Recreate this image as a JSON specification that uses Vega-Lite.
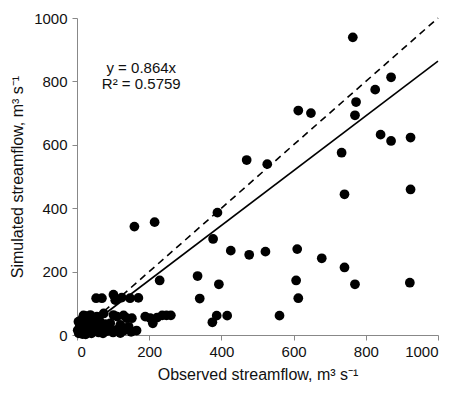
{
  "$schema": "https://vega.github.io/schema/vega-lite/v6.json",
  "width": 361,
  "height": 317,
  "autosize": "none",
  "padding": {"left": 77, "top": 18, "right": 36, "bottom": 60},
  "background": "white",
  "config": {
    "view": {"stroke": null},
    "font": "Liberation Sans",
    "axis": {
      "grid": false,
      "domainColor": "#888888",
      "tickColor": "#888888",
      "tickSize": 5,
      "labelFont": "Liberation Sans",
      "labelFontSize": 15,
      "labelColor": "#111111",
      "titleFont": "Liberation Sans",
      "titleFontSize": 16,
      "titleFontWeight": "normal",
      "titleColor": "#111111"
    }
  },
  "datasets": {
    "pts": [
      {"obs": 764, "sim": 939}, {"obs": 870, "sim": 813}, {"obs": 826, "sim": 774}, {"obs": 773, "sim": 735},
      {"obs": 770, "sim": 693}, {"obs": 613, "sim": 708}, {"obs": 648, "sim": 700}, {"obs": 841, "sim": 632},
      {"obs": 870, "sim": 612}, {"obs": 924, "sim": 623}, {"obs": 733, "sim": 575}, {"obs": 470, "sim": 552},
      {"obs": 527, "sim": 539}, {"obs": 741, "sim": 444}, {"obs": 924, "sim": 459}, {"obs": 389, "sim": 386},
      {"obs": 377, "sim": 303}, {"obs": 426, "sim": 266}, {"obs": 477, "sim": 253}, {"obs": 522, "sim": 263},
      {"obs": 610, "sim": 271}, {"obs": 678, "sim": 242}, {"obs": 741, "sim": 213}, {"obs": 334, "sim": 186},
      {"obs": 393, "sim": 160}, {"obs": 340, "sim": 115}, {"obs": 607, "sim": 172}, {"obs": 770, "sim": 160},
      {"obs": 922, "sim": 165}, {"obs": 613, "sim": 116}, {"obs": 387, "sim": 61}, {"obs": 375, "sim": 40},
      {"obs": 416, "sim": 61}, {"obs": 561, "sim": 61}, {"obs": 159, "sim": 342}, {"obs": 215, "sim": 356},
      {"obs": 229, "sim": 172},
      {"obs": 53, "sim": 116}, {"obs": 69, "sim": 116}, {"obs": 101, "sim": 127}, {"obs": 106, "sim": 110},
      {"obs": 124, "sim": 118}, {"obs": 147, "sim": 116}, {"obs": 170, "sim": 117},
      {"obs": 23, "sim": 60}, {"obs": 37, "sim": 63}, {"obs": 55, "sim": 58}, {"obs": 74, "sim": 68},
      {"obs": 101, "sim": 63}, {"obs": 111, "sim": 58}, {"obs": 129, "sim": 62}, {"obs": 138, "sim": 53},
      {"obs": 152, "sim": 53}, {"obs": 189, "sim": 58}, {"obs": 203, "sim": 53}, {"obs": 210, "sim": 37},
      {"obs": 222, "sim": 55}, {"obs": 236, "sim": 62}, {"obs": 248, "sim": 62}, {"obs": 260, "sim": 62},
      {"obs": 92, "sim": 37}, {"obs": 120, "sim": 32}, {"obs": 143, "sim": 26},
      {"obs": 5, "sim": 5}, {"obs": 10, "sim": 12}, {"obs": 15, "sim": 3}, {"obs": 20, "sim": 20},
      {"obs": 8, "sim": 28}, {"obs": 4, "sim": 42}, {"obs": 14, "sim": 50}, {"obs": 26, "sim": 36},
      {"obs": 30, "sim": 12}, {"obs": 36, "sim": 26}, {"obs": 40, "sim": 5}, {"obs": 46, "sim": 40},
      {"obs": 50, "sim": 16}, {"obs": 56, "sim": 30}, {"obs": 60, "sim": 8}, {"obs": 18, "sim": 62},
      {"obs": 28, "sim": 55}, {"obs": 66, "sim": 20}, {"obs": 72, "sim": 5}, {"obs": 78, "sim": 34},
      {"obs": 82, "sim": 12}, {"obs": 90, "sim": 20}, {"obs": 100, "sim": 8}, {"obs": 110, "sim": 16},
      {"obs": 120, "sim": 6}, {"obs": 130, "sim": 14}, {"obs": 150, "sim": 10}, {"obs": 165, "sim": 14},
      {"obs": 2, "sim": 15}, {"obs": 24, "sim": 2}, {"obs": 45, "sim": 22}, {"obs": 62, "sim": 45}
    ],
    "lines": [
      {"x": 0, "y": 0, "kind": "fit"}, {"x": 1000, "y": 864, "kind": "fit"},
      {"x": 0, "y": 0, "kind": "one"}, {"x": 1000, "y": 1000, "kind": "one"}
    ],
    "notes": [
      {"x": 178, "y": 842, "label": "y = 0.864x"},
      {"x": 178, "y": 793, "label": "R² = 0.5759"}
    ]
  },
  "layer": [
    {
      "data": {"name": "lines"},
      "transform": [{"filter": "datum.kind === 'one'"}],
      "mark": {"type": "line", "color": "black", "strokeWidth": 1.6, "strokeDash": [7, 5]},
      "encoding": {
        "x": {"field": "x", "type": "quantitative", "scale": {"domain": [0, 1000], "nice": false},
              "axis": {"values": [0, 200, 400, 600, 800, 1000], "format": "d", "title": "Observed streamflow, m³ s⁻¹", "titlePadding": 7, "labelPadding": 4}},
        "y": {"field": "y", "type": "quantitative", "scale": {"domain": [0, 1000], "nice": false},
              "axis": {"values": [0, 200, 400, 600, 800, 1000], "format": "d", "title": "Simulated streamflow, m³ s⁻¹", "titlePadding": 8, "labelPadding": 5}}
      }
    },
    {
      "data": {"name": "lines"},
      "transform": [{"filter": "datum.kind === 'fit'"}],
      "mark": {"type": "line", "color": "black", "strokeWidth": 1.6},
      "encoding": {
        "x": {"field": "x", "type": "quantitative"},
        "y": {"field": "y", "type": "quantitative"}
      }
    },
    {
      "data": {"name": "pts"},
      "mark": {"type": "point", "filled": true, "color": "black", "opacity": 1, "size": 95, "shape": "circle"},
      "encoding": {
        "x": {"field": "obs", "type": "quantitative"},
        "y": {"field": "sim", "type": "quantitative"}
      }
    },
    {
      "data": {"name": "notes"},
      "mark": {"type": "text", "fontSize": 15, "color": "#111111", "align": "center", "baseline": "middle", "font": "Liberation Sans"},
      "encoding": {
        "x": {"field": "x", "type": "quantitative"},
        "y": {"field": "y", "type": "quantitative"},
        "text": {"field": "label"}
      }
    }
  ]
}
